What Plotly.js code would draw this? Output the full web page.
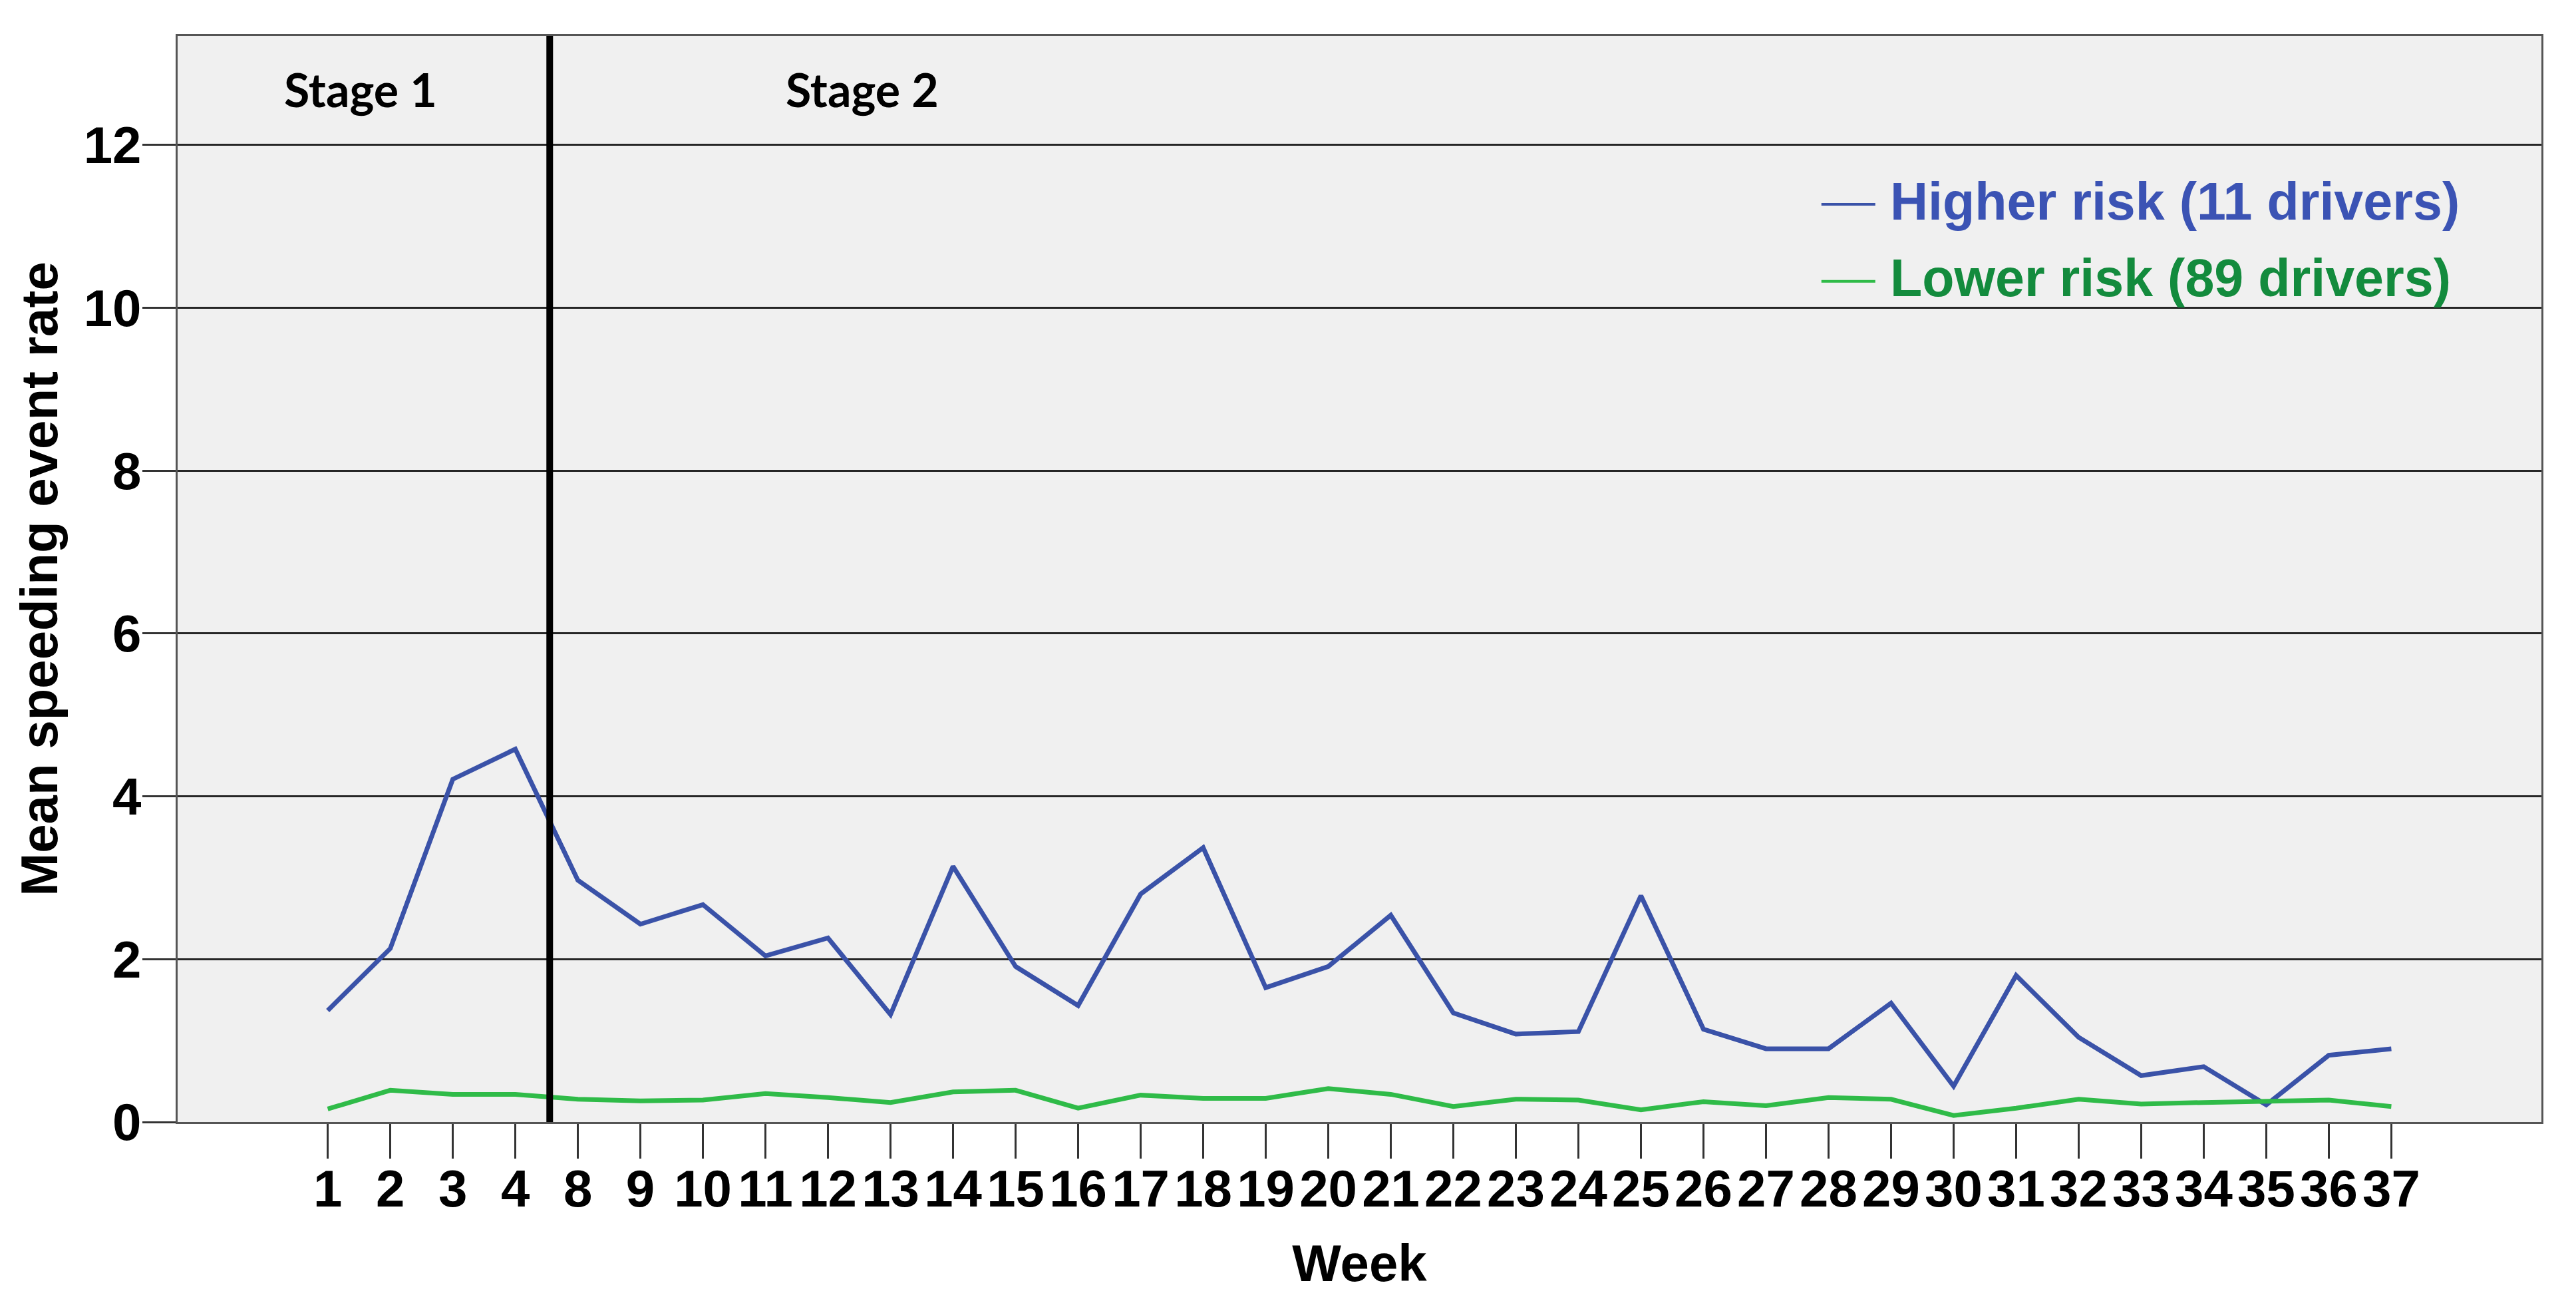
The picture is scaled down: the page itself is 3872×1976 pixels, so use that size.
<!DOCTYPE html>
<html>
<head>
<meta charset="utf-8">
<script src="https://cdn.plot.ly/plotly-3.0.1.min.js"></script>
<style>
  html, body { margin: 0; padding: 0; background: #ffffff; }
  #chart { width: 3872px; height: 1976px; }
</style>
</head>
<body>
<div id="chart"></div>
<script>
// ---- Data ----
const weeks = ['1','2','3','4','8','9','10','11','12','13','14','15','16','17','18','19','20','21','22','23','24','25','26','27','28','29','30','31','32','33','34','35','36','37'];
const higherRisk = [1.37, 2.13, 4.21, 4.58, 2.97, 2.43, 2.67, 2.04, 2.26, 1.32, 3.14, 1.91, 1.43, 2.80, 3.37, 1.65, 1.91, 2.54, 1.34, 1.08, 1.11, 2.78, 1.14, 0.90, 0.90, 1.46, 0.44, 1.80, 1.04, 0.57, 0.68, 0.21, 0.82, 0.90];
const lowerRisk  = [0.16, 0.39, 0.34, 0.34, 0.28, 0.26, 0.27, 0.35, 0.30, 0.24, 0.37, 0.39, 0.17, 0.33, 0.29, 0.29, 0.41, 0.34, 0.19, 0.28, 0.27, 0.15, 0.25, 0.20, 0.30, 0.28, 0.08, 0.17, 0.28, 0.22, 0.24, 0.25, 0.27, 0.19];
const seriesNames = ['Higher risk (11 drivers)', 'Lower risk (89 drivers)'];
const stageLabels = ['Stage 1', 'Stage 2'];
const yTicks = [0, 2, 4, 6, 8, 10, 12];

const blueLine = '#3a52a8';
const greenLine = '#2fbb48';
const blueText = '#3b53b4';
const greenText = '#138b3d';
const lineColors = [blueLine, greenLine];
const textColors = [blueText, greenText];

const traces = [
  { x: weeks, y: higherRisk, type: 'scatter', mode: 'lines', name: seriesNames[0],
    line: { color: blueLine, width: 7 } },
  { x: weeks, y: lowerRisk, type: 'scatter', mode: 'lines', name: seriesNames[1],
    line: { color: greenLine, width: 7 } }
];

const tickFont = { family: '"Liberation Sans", Arial, sans-serif', size: 78, color: '#000', weight: 'bold' };
const titleFont = { family: '"Liberation Sans", Arial, sans-serif', size: 78, color: '#000', weight: 'bold' };
const stageFont = { family: 'Lato, "Open Sans", sans-serif', size: 70, color: '#000', weight: 'bold' };
const legendFont = { family: '"Liberation Sans", Arial, sans-serif', size: 79, weight: 'bold' };

// legend drawn as text + short line samples (paper coordinates)
const legendY = [0.848, 0.777];
const legendShapes = legendY.map((yy, i) => ({
  type: 'line', xref: 'paper', yref: 'paper', x0: 0.6954, x1: 0.7182, y0: yy - 0.003, y1: yy - 0.003,
  line: { color: lineColors[i], width: 4 }
}));
const legendAnnots = legendY.map((yy, i) => ({
  text: seriesNames[i], xref: 'paper', yref: 'paper', x: 0.7240, y: yy,
  xanchor: 'left', yanchor: 'middle', showarrow: false,
  font: Object.assign({}, legendFont, { color: textColors[i] })
}));

const layout = {
  width: 3872, height: 1976,
  paper_bgcolor: '#ffffff',
  plot_bgcolor: '#f0f0f0',
  margin: { l: 267, r: 52, t: 54, b: 290, autoexpand: false },
  showlegend: false,
  xaxis: {
    type: 'category',
    range: [-2.40, 35.40],
    tickmode: 'linear', tick0: 0, dtick: 1,
    showgrid: false, zeroline: false,
    showline: true, mirror: true, linecolor: '#555', linewidth: 3,
    ticks: 'outside', ticklen: 52, tickwidth: 3, tickcolor: '#333',
    tickfont: tickFont, ticklabelstandoff: -22,
    title: { text: 'Week', font: titleFont, standoff: 42 },
    fixedrange: true
  },
  yaxis: {
    range: [0, 13.34],
    tickvals: yTicks, ticktext: yTicks.map(String),
    showgrid: true, gridcolor: '#262626', gridwidth: 3,
    zeroline: false,
    showline: true, mirror: true, linecolor: '#555', linewidth: 3,
    ticks: 'outside', ticklen: 50, tickwidth: 3, tickcolor: '#333',
    tickfont: tickFont, ticklabelstandoff: -14,
    title: { text: 'Mean speeding event rate', font: titleFont, standoff: 14 },
    fixedrange: true
  },
  shapes: [
    { type: 'line', xref: 'x', yref: 'paper', x0: 3.55, x1: 3.55, y0: 0, y1: 1,
      line: { color: '#000', width: 10 } }
  ].concat(legendShapes),
  annotations: [
    { text: stageLabels[0], xref: 'paper', yref: 'paper', x: 0.0774, y: 0.951,
      xanchor: 'center', yanchor: 'middle', showarrow: false, font: stageFont },
    { text: stageLabels[1], xref: 'paper', yref: 'paper', x: 0.2896, y: 0.951,
      xanchor: 'center', yanchor: 'middle', showarrow: false, font: stageFont }
  ].concat(legendAnnots)
};

Plotly.newPlot('chart', traces, layout, { displayModeBar: false, staticPlot: true });
</script>
</body>
</html>
